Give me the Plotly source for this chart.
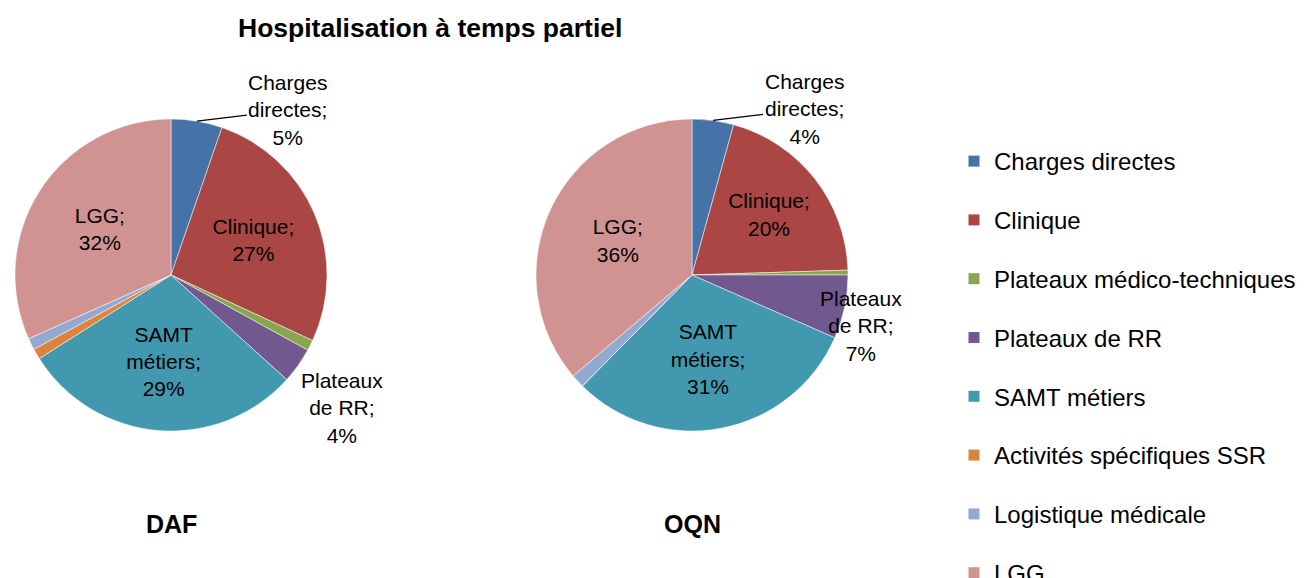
import math
import plotly.graph_objects as go

# ---------------- data ----------------
categories = ["Charges directes", "Clinique", "Plateaux médico-techniques", "Plateaux de RR",
              "SAMT métiers", "Activités spécifiques SSR", "Logistique médicale", "LGG"]
daf_values = [5.3, 26.6, 1.1, 3.7, 29.3, 1.1, 1.2, 31.7]
oqn_values = [4.3, 20.2, 0.5, 6.6, 30.8, 0.0, 1.4, 36.2]
label_text = ["Charges<br>directes", "Clinique", "", "Plateaux<br>de RR",
              "SAMT<br>métiers", "", "", "LGG"]
chart_title = "Hospitalisation à temps partiel"
pie_names = ["DAF", "OQN"]

# ---------------- style ----------------
colors = ["#4572A7", "#AA4643", "#89A54E", "#71588F", "#4198AF", "#DB843D", "#93A9CF", "#D19392"]
W, H = 1308, 578
FONT = "Liberation Sans, Arial, sans-serif"
pie_centers = [(171, 275), (692, 275)]
R = 156
inside_idx = [1, 4, 7]
rr_shift = [(44, -42), (16, -19)]
LBL = 21

fig = go.Figure()
annotations = []

for k, (vals, name) in enumerate(zip([daf_values, oqn_values], pie_names)):
    cx, cy = pie_centers[k]
    total = sum(vals)
    tpos = ["inside" if i in inside_idx else "none" for i in range(len(vals))]
    ttempl = [("%{text};<br>%{percent:.0%}" if i in inside_idx else "") for i in range(len(vals))]
    fig.add_trace(go.Pie(
        labels=categories, values=vals, text=label_text, sort=False,
        direction="clockwise", rotation=0,
        marker=dict(colors=colors, line=dict(color="white", width=0.5)),
        textposition=tpos, texttemplate=ttempl, insidetextorientation="horizontal",
        textfont=dict(family=FONT, size=LBL, color="black"),
        showlegend=False, hoverinfo="label+percent",
        domain=dict(x=[(cx - R) / W, (cx + R) / W], y=[1 - (cy + R) / H, 1 - (cy - R) / H]),
    ))

    # outside labels computed from slice mid-angles
    cum = 0
    mids = []
    for v in vals:
        mids.append((cum + v / 2) / total * 2 * math.pi)
        cum += v

    def edge(i):
        a = mids[i]
        return (cx + R * math.sin(a)) / W, 1 - (cy - R * math.cos(a)) / H

    # Charges directes with leader line
    ex, ey = edge(0)
    annotations.append(dict(
        x=ex, y=ey, xref="paper", yref="paper",
        text=f"{label_text[0]};<br>{round(vals[0] / total * 100)}%",
        showarrow=True, arrowhead=0, arrowwidth=1.4, arrowcolor="black",
        ax=91, ay=-11, font=dict(family=FONT, size=LBL, color="black"), align="center"))
    # Plateaux de RR
    ex, ey = edge(3)
    annotations.append(dict(
        x=ex, y=ey, xref="paper", yref="paper", xanchor="center", yanchor="middle",
        text=f"{label_text[3]};<br>{round(vals[3] / total * 100)}%",
        showarrow=False, xshift=rr_shift[k][0], yshift=rr_shift[k][1],
        font=dict(family=FONT, size=LBL, color="black"), align="center"))
    # pie name
    annotations.append(dict(
        x=cx / W, y=1 - 524 / H, xref="paper", yref="paper", xanchor="center", yanchor="middle",
        text=f"<b>{name}</b>",
        showarrow=False, font=dict(family=FONT, size=25, color="black")))

annotations.append(dict(
    x=430 / W, y=1 - 28 / H, xref="paper", yref="paper", xanchor="center", yanchor="middle",
    text=f"<b>{chart_title}</b>",
    showarrow=False, font=dict(family=FONT, size=26.5, color="black")))

# legend entries
for i, (cat, col) in enumerate(zip(categories, colors)):
    fig.add_trace(go.Scatter(
        x=[None], y=[None], mode="markers", name=cat, legendgroup=cat,
        marker=dict(symbol="square", size=11, color=col), showlegend=True))

fig.update_layout(
    width=W, height=H,
    margin=dict(l=0, r=0, t=0, b=0, autoexpand=False),
    paper_bgcolor="white", plot_bgcolor="white",
    xaxis=dict(visible=False), yaxis=dict(visible=False),
    annotations=annotations,
    legend=dict(x=954 / W, xanchor="left", y=1 - 139 / H, yanchor="top",
                font=dict(family=FONT, size=24, color="black"),
                tracegroupgap=24.6, itemwidth=30, bgcolor="rgba(0,0,0,0)"),
    font=dict(family=FONT),
)

fig.write_html("out.html", config={"displayModeBar": False},
               post_script="document.body.style.margin='0px';")
